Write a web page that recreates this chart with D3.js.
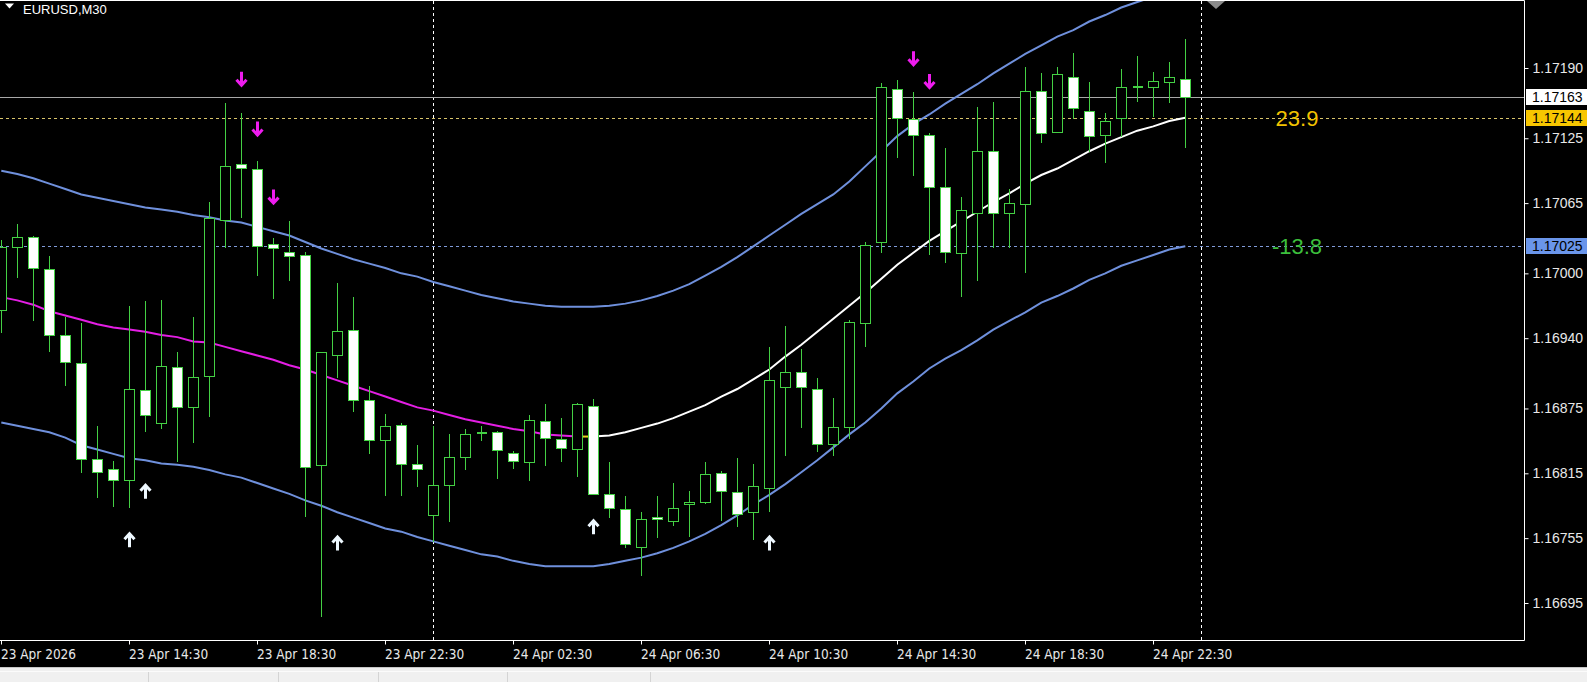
<!DOCTYPE html>
<html>
<head>
<meta charset="utf-8">
<script src="https://cdn.jsdelivr.net/npm/d3@7"></script>
<style>
  html, body { margin: 0; padding: 0; background: #000; overflow: hidden; }
  svg { display: block; font-family: "Liberation Sans", Arial, sans-serif; }
</style>
</head>
<body>
<div id="chart"></div>
<script>
// EURUSD M30 — candles with a smoothed middle line and two bands, MT4 style

const SYMBOL_TITLE = 'EURUSD,M30';

// bar 0 = 23 Apr 10:30, one bar every 30 minutes
const opens = [
  1.16966,1.17025,1.17034,1.17004,1.16943,1.16917,1.16828,1.16819,1.16809,1.16892,
  1.16861,1.16913,1.16876,1.16905,1.17049,1.17101,1.17097,1.17027,1.17020,1.17017,
  1.16822,1.16925,1.16948,1.16883,1.16846,1.16860,1.16824,1.16776,1.16804,1.16830,
  1.16853,1.16853,1.16834,1.16825,1.16863,1.16847,1.16837,1.16877,1.16796,1.16782,
  1.16747,1.16775,1.16771,1.16786,1.16788,1.16815,1.16798,1.16779,1.16801,1.16895,
  1.16909,1.16893,1.16842,1.16858,1.16954,1.17029,1.17171,1.17143,1.17128,1.17080,
  1.17019,1.17056,1.17113,1.17056,1.17064,1.17169,1.17130,1.17182,1.17150,1.17128,
  1.17143,1.17173,1.17172,1.17177,1.17180
];
const highs = [
  1.17031,1.17046,1.17035,1.17016,1.16960,1.16954,1.16859,1.16826,1.16970,1.16974,
  1.16975,1.16927,1.16960,1.17066,1.17158,1.17148,1.17104,1.17033,1.17048,1.17020,
  1.16927,1.16991,1.16978,1.16896,1.16870,1.16862,1.16841,1.16859,1.16851,1.16856,
  1.16859,1.16854,1.16836,1.16869,1.16879,1.16866,1.16880,1.16884,1.16825,1.16794,
  1.16779,1.16794,1.16806,1.16799,1.16825,1.16817,1.16829,1.16824,1.16932,1.16951,
  1.16930,1.16903,1.16885,1.16957,1.17029,1.17176,1.17179,1.17168,1.17130,1.17116,
  1.17071,1.17154,1.17159,1.17078,1.17191,1.17185,1.17191,1.17204,1.17177,1.17148,
  1.17189,1.17201,1.17186,1.17196,1.17217
];
const lows = [
  1.16945,1.16996,1.16956,1.16927,1.16896,1.16815,1.16792,1.16784,1.16783,1.16853,
  1.16856,1.16825,1.16843,1.16867,1.17023,1.17051,1.16998,1.16976,1.16993,1.16775,
  1.16682,1.16903,1.16872,1.16833,1.16794,1.16794,1.16802,1.16751,1.16770,1.16818,
  1.16845,1.16810,1.16819,1.16808,1.16822,1.16825,1.16812,1.16796,1.16774,1.16746,
  1.16720,1.16755,1.16766,1.16756,1.16787,1.16771,1.16765,1.16753,1.16779,1.16831,
  1.16857,1.16835,1.16831,1.16847,1.16932,1.17019,1.17107,1.17090,1.17017,1.17010,
  1.16978,1.16993,1.17023,1.17023,1.17000,1.17121,1.17130,1.17143,1.17112,1.17102,
  1.17126,1.17159,1.17145,1.17158,1.17116
];
const closes = [
  1.17024,1.17034,1.17005,1.16943,1.16918,1.16828,1.16816,1.16809,1.16893,1.16869,
  1.16914,1.16876,1.16904,1.17051,1.17099,1.17097,1.17026,1.17023,1.17016,1.16821,
  1.16927,1.16947,1.16883,1.16846,1.16859,1.16824,1.16819,1.16804,1.16830,1.16851,
  1.16853,1.16836,1.16827,1.16864,1.16847,1.16839,1.16879,1.16796,1.16783,1.16750,
  1.16773,1.16773,1.16783,1.16788,1.16814,1.16798,1.16778,1.16803,1.16901,1.16909,
  1.16895,1.16842,1.16858,1.16955,1.17026,1.17172,1.17144,1.17128,1.17080,1.17020,
  1.17059,1.17113,1.17056,1.17065,1.17169,1.17130,1.17184,1.17153,1.17127,1.17141,
  1.17172,1.17173,1.17178,1.17182,1.17163
];

// indicator: middle line and upper / lower bands, one value per bar
const midLine = [
  1.16978,1.16975,1.16971,1.16965,1.16961,1.16957,1.16953,1.16950,1.16948,1.16946,
  1.16943,1.16941,1.16937,1.16936,1.16932,1.16928,1.16924,1.16920,1.16915,1.16911,
  1.16906,1.16901,1.16896,1.16891,1.16886,1.16881,1.16876,1.16873,1.16869,1.16865,
  1.16862,1.16859,1.16856,1.16854,1.16851,1.16850,1.16849,1.16849,1.16850,1.16853,
  1.16857,1.16861,1.16866,1.16872,1.16878,1.16886,1.16893,1.16902,1.16911,1.16923,
  1.16934,1.16946,1.16958,1.16970,1.16982,1.16995,1.17008,1.17019,1.17030,1.17039,
  1.17048,1.17057,1.17066,1.17074,1.17083,1.17091,1.17097,1.17105,1.17113,1.17120,
  1.17126,1.17132,1.17136,1.17141,1.17144
];
const upperBand = [
  1.17095,1.17092,1.17088,1.17083,1.17078,1.17073,1.17070,1.17067,1.17064,1.17061,
  1.17059,1.17057,1.17054,1.17052,1.17049,1.17047,1.17043,1.17039,1.17035,1.17029,
  1.17023,1.17018,1.17013,1.17009,1.17005,1.17000,1.16997,1.16992,1.16988,1.16984,
  1.16980,1.16977,1.16974,1.16972,1.16970,1.16969,1.16969,1.16969,1.16970,1.16972,
  1.16975,1.16979,1.16984,1.16990,1.16998,1.17006,1.17015,1.17025,1.17035,1.17045,
  1.17055,1.17064,1.17073,1.17085,1.17099,1.17113,1.17127,1.17138,1.17147,1.17157,
  1.17166,1.17175,1.17185,1.17194,1.17203,1.17211,1.17219,1.17225,1.17233,1.17239,
  1.17246,1.17251,1.17256,1.17260,1.17264
];
const lowerBand = [
  1.16862,1.16859,1.16856,1.16853,1.16848,1.16841,1.16837,1.16833,1.16829,1.16827,
  1.16824,1.16823,1.16821,1.16818,1.16814,1.16811,1.16806,1.16801,1.16796,1.16790,
  1.16785,1.16779,1.16774,1.16769,1.16764,1.16761,1.16756,1.16752,1.16748,1.16744,
  1.16740,1.16738,1.16734,1.16731,1.16729,1.16729,1.16729,1.16729,1.16731,1.16734,
  1.16737,1.16741,1.16746,1.16752,1.16759,1.16767,1.16776,1.16786,1.16795,1.16805,
  1.16816,1.16827,1.16839,1.16851,1.16862,1.16875,1.16889,1.16900,1.16912,1.16921,
  1.16929,1.16938,1.16948,1.16956,1.16964,1.16973,1.16979,1.16986,1.16994,1.17000,
  1.17007,1.17012,1.17017,1.17022,1.17025
];
// middle line state: falling up to bar 36, flat 36-37, rising after
const midTrend = [
  { from: 0,  to: 36, state: 'down' },
  { from: 36, to: 37, state: 'flat' },
  { from: 37, to: 74, state: 'up' }
];

// signal arrows
const sellBars   = [15, 16, 17, 57, 58];
const sellPrices = [1.17180, 1.17134, 1.17071, 1.17199, 1.17178];
const buyBars    = [8, 9, 21, 37, 48];
const buyPrices  = [1.16753, 1.16798, 1.16750, 1.16765, 1.16750];

// axes
const priceTicks = [1.17190, 1.17125, 1.17065, 1.17000, 1.16940, 1.16875, 1.16815, 1.16755, 1.16695];
const timeTickBars = [0, 8, 16, 24, 32, 40, 48, 56, 64, 72];
const timeLabels = ['23 Apr 2026', '23 Apr 14:30', '23 Apr 18:30', '23 Apr 22:30', '24 Apr 02:30',
                    '24 Apr 06:30', '24 Apr 10:30', '24 Apr 14:30', '24 Apr 18:30', '24 Apr 22:30'];
const daySeparatorBars = [27, 75];

// horizontal levels
const bidPrice = 1.17163;
const levelPrices = [1.17144, 1.17025];
const levelTexts  = ['23.9', '-13.8'];

const W = 1587, H = 682;
const PLOT = { left: 0, top: 1, right: 1524, bottom: 640 };
const CONDENSED = '"DejaVu Sans Condensed", "Liberation Sans Narrow", "Liberation Sans", sans-serif';

const COLORS = {
  bg: '#000000',
  candle: '#44d044',
  bearBody: '#ffffff',
  bullBody: '#000000',
  band: '#6f90dc',
  down: '#e41ee4',
  flat: '#e8d020',
  up: '#ffffff',
  sellArrow: '#ee1cee',
  buyArrow: '#eef8ff',
  axisText: '#e8e8e8',
  bid: '#a8a8a8',
  levels: ['#d8c46a', '#7f9ad8'],
  levelBoxes: ['#f7c600', '#6a95ea'],
  levelText: ['#f2c200', '#3cbf3c']
};

const svg = d3.select('#chart').append('svg')
  .attr('width', W).attr('height', H);

svg.append('rect').attr('width', W).attr('height', H).attr('fill', COLORS.bg);

const x = d3.scaleLinear().domain([0, 74]).range([1.3, 1185.3]);
const y = d3.scaleLinear().domain([1.16695, 1.17190]).range([603, 68]);

svg.append('defs').append('clipPath').attr('id', 'plot-clip')
  .append('rect')
    .attr('x', PLOT.left).attr('y', PLOT.top)
    .attr('width', PLOT.right - PLOT.left).attr('height', PLOT.bottom - PLOT.top);

const plot = svg.append('g').attr('clip-path', 'url(#plot-clip)');

// Day separators
plot.selectAll('.sep')
  .data(daySeparatorBars)
  .join('line')
    .attr('x1', d => Math.round(x(d)) + 0.5).attr('x2', d => Math.round(x(d)) + 0.5)
    .attr('y1', PLOT.top).attr('y2', PLOT.bottom)
    .attr('stroke', '#ffffff').attr('stroke-width', 1)
    .attr('stroke-dasharray', '3,3');

// Bid line and level lines
plot.append('line')
  .attr('x1', PLOT.left).attr('x2', PLOT.right)
  .attr('y1', Math.round(y(bidPrice)) + 0.5).attr('y2', Math.round(y(bidPrice)) + 0.5)
  .attr('stroke', COLORS.bid).attr('stroke-width', 1);

plot.selectAll('.level')
  .data(levelPrices)
  .join('line')
    .attr('x1', PLOT.left).attr('x2', PLOT.right)
    .attr('y1', d => Math.round(y(d)) + 0.5).attr('y2', d => Math.round(y(d)) + 0.5)
    .attr('stroke', (d, i) => COLORS.levels[i]).attr('stroke-width', 1)
    .attr('stroke-dasharray', '3,3');

// Bands
const line = d3.line().x((d, i) => x(i)).y(d => y(d));

plot.append('path').attr('d', line(upperBand))
  .attr('fill', 'none').attr('stroke', COLORS.band).attr('stroke-width', 2);
plot.append('path').attr('d', line(lowerBand))
  .attr('fill', 'none').attr('stroke', COLORS.band).attr('stroke-width', 2);

// Middle line, coloured by trend state
const segLine = d3.line().x(d => x(d.i)).y(d => y(d.v));
plot.selectAll('.mid-seg')
  .data(midTrend)
  .join('path')
    .attr('d', s => segLine(d3.range(s.from, s.to + 1).map(i => ({ i, v: midLine[i] }))))
    .attr('fill', 'none')
    .attr('stroke', s => COLORS[s.state])
    .attr('stroke-width', 2);

// Candles
const bars = opens.map((o, i) => ({ i, o, h: highs[i], l: lows[i], c: closes[i] }));
const candles = plot.append('g').attr('shape-rendering', 'crispEdges');

candles.selectAll('.wick')
  .data(bars)
  .join('line')
    .attr('x1', d => Math.round(x(d.i)) + 0.5).attr('x2', d => Math.round(x(d.i)) + 0.5)
    .attr('y1', d => y(d.h)).attr('y2', d => y(d.l))
    .attr('stroke', COLORS.candle).attr('stroke-width', 1);

candles.selectAll('.body')
  .data(bars.filter(d => d.o !== d.c))
  .join('rect')
    .attr('x', d => Math.round(x(d.i)) - 4.5)
    .attr('y', d => Math.round(y(Math.max(d.o, d.c))) + 0.5)
    .attr('width', 10)
    .attr('height', d => Math.max(1, Math.round(Math.abs(y(d.o) - y(d.c)))))
    .attr('fill', d => d.c > d.o ? COLORS.bullBody : COLORS.bearBody)
    .attr('stroke', COLORS.candle).attr('stroke-width', 1);

candles.selectAll('.doji')
  .data(bars.filter(d => d.o === d.c))
  .join('line')
    .attr('x1', d => Math.round(x(d.i)) - 4.5).attr('x2', d => Math.round(x(d.i)) + 5.5)
    .attr('y1', d => Math.round(y(d.o)) + 0.5).attr('y2', d => Math.round(y(d.o)) + 0.5)
    .attr('stroke', COLORS.candle).attr('stroke-width', 2);

// Arrows
const upArrow = 'M0,7 L0,-5 M-5,-1 L0,-6.5 L5,-1';
const downArrow = 'M0,-7 L0,5 M-5,1 L0,6.5 L5,1';

plot.selectAll('.sell')
  .data(sellBars)
  .join('path')
    .attr('transform', (d, k) => `translate(${Math.round(x(d)) + 0.5},${y(sellPrices[k])})`)
    .attr('d', downArrow)
    .attr('fill', 'none').attr('stroke', COLORS.sellArrow)
    .attr('stroke-width', 3).attr('stroke-linejoin', 'miter');

plot.selectAll('.buy')
  .data(buyBars)
  .join('path')
    .attr('transform', (d, k) => `translate(${Math.round(x(d)) + 0.5},${y(buyPrices[k])})`)
    .attr('d', upArrow)
    .attr('fill', 'none').attr('stroke', COLORS.buyArrow)
    .attr('stroke-width', 3).attr('stroke-linejoin', 'miter');

// Indicator values next to the levels
svg.selectAll('.level-text')
  .data(levelTexts)
  .join('text')
    .attr('x', 1297).attr('y', (d, i) => y(levelPrices[i]))
    .attr('dy', '0.36em')
    .attr('text-anchor', 'middle')
    .attr('fill', (d, i) => COLORS.levelText[i])
    .style('font-size', '22px')
    .text(d => d);

// Frame
svg.append('path')
  .attr('d', `M${PLOT.left},${PLOT.top - 0.5} H${PLOT.right + 0.5} V${PLOT.bottom + 0.5} H${PLOT.left}`)
  .attr('fill', 'none').attr('stroke', '#ffffff').attr('stroke-width', 1);

// Price axis
const gy = svg.append('g')
  .attr('transform', `translate(${PLOT.right + 0.5},0)`)
  .call(d3.axisRight(y).tickValues(priceTicks).tickSize(4).tickPadding(4).tickFormat(d3.format('.5f')));
gy.select('.domain').remove();
gy.selectAll('line').attr('stroke', '#ffffff');
gy.selectAll('text')
  .attr('fill', COLORS.axisText)
  .style('font-family', '"Liberation Sans", Arial, sans-serif')
  .style('font-size', '14px');

// Time axis
const gx = svg.append('g')
  .attr('transform', `translate(0,${PLOT.bottom + 0.5})`)
  .call(d3.axisBottom(x).tickValues(timeTickBars).tickSize(4).tickPadding(5)
    .tickFormat((d, k) => timeLabels[k]));
gx.select('.domain').remove();
gx.selectAll('.tick').attr('transform', d => `translate(${Math.round(x(d)) + 0.5},0)`);
gx.selectAll('line').attr('stroke', '#ffffff');
gx.selectAll('text')
  .attr('text-anchor', 'start')
  .attr('x', -0.5)
  .attr('fill', COLORS.axisText)
  .style('font-family', CONDENSED)
  .style('font-size', '13.5px');

// Price boxes on the axis
const boxes = [
  { price: bidPrice, fill: '#ffffff' },
  { price: levelPrices[0], fill: COLORS.levelBoxes[0] },
  { price: levelPrices[1], fill: COLORS.levelBoxes[1] }
];
const box = svg.selectAll('.pbox').data(boxes).join('g')
  .attr('transform', d => `translate(${PLOT.right + 2},${Math.round(y(d.price))})`);
box.append('rect')
  .attr('x', 0).attr('y', -8).attr('width', W - PLOT.right - 2).attr('height', 16)
  .attr('fill', d => d.fill);
box.append('text')
  .attr('x', 6).attr('dy', '0.36em')
  .attr('fill', '#000000')
  .style('font-size', '14px')
  .text(d => d3.format('.5f')(d.price));

// Chart shift marker
svg.append('path').attr('d', 'M1207,1 L1225,1 L1216,9 Z').attr('fill', '#8a8a8a');

// Title
svg.append('path').attr('d', 'M5,3.5 L14,3.5 L9.5,8.5 Z').attr('fill', '#ffffff');
svg.append('text').attr('x', 23).attr('y', 14)
  .attr('fill', '#ffffff').style('font-size', '13px')
  .text(SYMBOL_TITLE);

// Bottom tab strip
const tabDividers = [148, 278, 378, 507, 650];
svg.append('rect').attr('x', 0).attr('y', 667).attr('width', W).attr('height', H - 667).attr('fill', '#f0f0f0');
svg.append('line').attr('x1', 0).attr('x2', W).attr('y1', 667.5).attr('y2', 667.5).attr('stroke', '#c8c8c8');
svg.append('line').attr('x1', 0).attr('x2', W).attr('y1', 671.5).attr('y2', 671.5).attr('stroke', '#fbfbfb');
svg.selectAll('.tabdiv').data(tabDividers).join('line')
  .attr('x1', d => d + 0.5).attr('x2', d => d + 0.5)
  .attr('y1', 672).attr('y2', H)
  .attr('stroke', '#d4d4d4');
</script>
</body>
</html>
